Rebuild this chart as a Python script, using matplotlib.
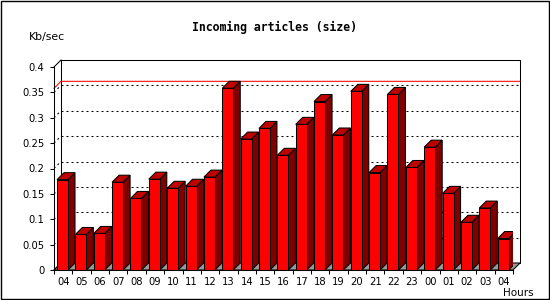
import matplotlib
matplotlib.use("Agg")
import matplotlib.pyplot as plt
from matplotlib.patches import Polygon, Rectangle

hours = ["04", "05", "06", "07", "08", "09", "10", "11", "12", "13", "14", "15", "16",
         "17", "18", "19", "20", "21", "22", "23", "00", "01", "02", "03", "04"]
kb_per_sec = [0.178, 0.070, 0.072, 0.173, 0.141, 0.179, 0.161, 0.165, 0.183, 0.358,
              0.258, 0.279, 0.226, 0.287, 0.332, 0.266, 0.352, 0.192, 0.346, 0.202,
              0.242, 0.151, 0.094, 0.122, 0.062]
y_ticks = [0, 0.05, 0.1, 0.15, 0.2, 0.25, 0.3, 0.35, 0.4]
y_tick_labels = ["0", "0.05", "0.1", "0.15", "0.2", "0.25", "0.3", "0.35", "0.4"]

W, H = 550, 300
fig = plt.figure(figsize=(W / 100, H / 100), dpi=100)
fig.patch.set_facecolor("white")

# plot area in pixels (front plane)
left, right, bottom, top = 54, 513, 30, 233
ax = fig.add_axes([left / W, bottom / H, (right - left) / W, (top - bottom) / H])
n = len(hours)
xmin, xmax = -0.5, n - 0.5
ymin, ymax = 0, 0.4
ax.set_xlim(xmin, xmax)
ax.set_ylim(ymin, ymax)

# 3d depth offset, in data units
px_x = (right - left) / (xmax - xmin)
px_y = (top - bottom) / (ymax - ymin)
dx = 7 / px_x
dy = 7 / px_y

lw = 0.75
dots = dict(color="black", lw=lw, linestyle=(0, (1.9, 2.9)), clip_on=False)

# back panel
ax.add_patch(Rectangle((xmin + dx, dy), xmax - xmin, ymax - ymin, fc="white",
                       ec="black", lw=lw, clip_on=False, zorder=0.5))
# floor
ax.add_patch(Polygon([(xmin, 0), (xmax, 0), (xmax + dx, dy), (xmin + dx, dy)],
                     closed=True, fc="#999999", ec="black", lw=lw, clip_on=False, zorder=0.6))

# grid on back panel
for v in y_ticks[1:-1]:
    ax.plot([xmin + dx, xmax + dx], [v + dy, v + dy], zorder=0.7, **dots)
    ax.plot([xmin, xmin + dx], [v, v + dy], zorder=0.7, **dots)

# max line
vmax = max(kb_per_sec)
ax.plot([xmin, xmin + dx, xmax + dx], [vmax, vmax + dy, vmax + dy], color="red",
        lw=lw, clip_on=False, zorder=0.8)

# left wall edges
ax.plot([xmin, xmin + dx], [ymax, ymax + dy], color="black", lw=lw, clip_on=False)
ax.plot([xmin, xmin + dx], [0, dy], color="black", lw=lw, clip_on=False)

# bars
off = 3 / px_x
bw = 11 / px_x
for i, v in enumerate(kb_per_sec):
    x0 = i - 0.5 + off
    x1 = x0 + bw
    ax.add_patch(Polygon([(x1, 0), (x1 + dx, dy), (x1 + dx, v + dy), (x1, v)],
                         closed=True, fc="#800000", ec="black", lw=lw, zorder=2))
    ax.add_patch(Polygon([(x0, v), (x1, v), (x1 + dx, v + dy), (x0 + dx, v + dy)],
                         closed=True, fc="#c00000", ec="black", lw=lw, zorder=2))
    ax.add_patch(Rectangle((x0, 0), bw, v, fc="#ff0000", ec="black", lw=lw, zorder=2))

# axes
for s in ("top", "right"):
    ax.spines[s].set_visible(False)
for s in ("left", "bottom"):
    ax.spines[s].set_linewidth(lw)
    ax.spines[s].set_zorder(3)

ax.set_yticks(y_ticks)
ax.set_yticklabels(y_tick_labels)
ax.set_xticks([i + 0.5 for i in range(-1, n)])
ax.set_xticklabels([])
ax.set_xticks(range(n), minor=True)
ax.set_xticklabels(hours, minor=True)
ax.tick_params(axis="y", direction="out", length=3, width=lw, pad=4, labelsize=7.2)
ax.tick_params(axis="x", which="major", direction="out", length=3, width=lw)
ax.tick_params(axis="x", which="minor", length=0, pad=5, labelsize=7.2)

fig.text(274 / W, 1 - 27 / H, "Incoming articles (size)", ha="center", va="center",
         family="DejaVu Sans Mono", weight="bold", fontsize=8.3)
fig.text(29 / W, 1 - 37 / H, "Kb/sec", ha="left", va="center", fontsize=7.8)
fig.text(534 / W, 1 - 293 / H, "Hours", ha="right", va="center", fontsize=7.5)

fig.patches.append(Rectangle((0.5 / W, 1.5 / H), 548 / W, 298 / H, transform=fig.transFigure,
                             fill=False, ec="black", lw=1))

fig.savefig("out.png", dpi=100)
